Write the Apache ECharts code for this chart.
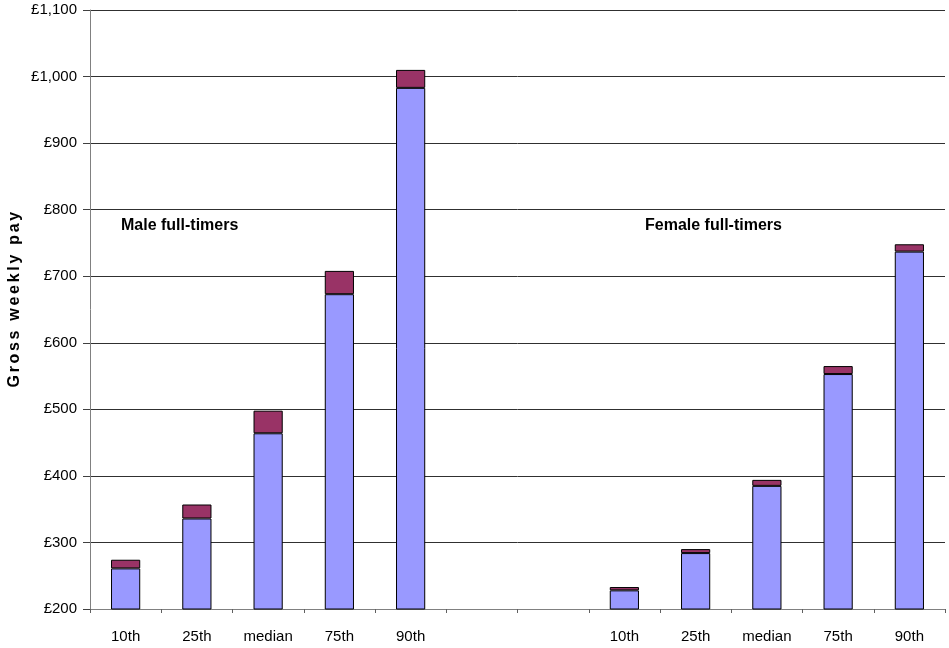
<!DOCTYPE html>
<html>
<head>
<meta charset="utf-8">
<script src="https://cdn.jsdelivr.net/npm/echarts@6/dist/echarts.min.js"></script>
<style>
  html, body { margin: 0; padding: 0; background: #fff; }
  #chart { width: 949px; height: 648px; }
</style>
</head>
<body>
<div id="chart"></div>
<script>
// Percentile groups: male full-timers, two spacer slots, female full-timers
const categories = ['10th', '25th', 'median', '75th', '90th', '', '', '10th', '25th', 'median', '75th', '90th'];

// Gross weekly pay, lower (earlier) level
const baseValues = [261, 336, 464, 673, 983, null, null, 228, 284, 385, 553, 737];

// Gross weekly pay, upper (later) level
const topValues = [274, 357, 498, 708, 1010, null, null, 233, 290, 394, 565, 748];

// Increment stacked above the base
const increments = baseValues.map((b, i) => (b == null ? null : topValues[i] - b));

const yTicks = { min: 200, max: 1100, step: 100 };

const yTitle = 'Gross weekly pay';
const groupLabels = ['Male full-timers', 'Female full-timers'];

const chart = echarts.init(document.getElementById('chart'));

const font = 'Liberation Sans, Arial, sans-serif';

// Spaced-out axis title: each character is its own rich fragment with side padding;
// the first fragment carries extra leading space to lift the title slightly.
const spacedTitle = yTitle.split('')
  .map((ch, i) => '{' + (i === 0 ? 'f' : 'c') + '|' + ch + '}')
  .join('');
const titleChar = { fontFamily: font, fontSize: 16, fontWeight: 'bold', color: '#000' };

chart.setOption({
  animation: false,
  backgroundColor: '#ffffff',
  grid: { left: 90, right: 4, top: 10, bottom: 39, containLabel: false, outerBoundsMode: 'none' },
  xAxis: {
    type: 'category',
    data: categories,
    boundaryGap: true,
    axisLine: { lineStyle: { color: '#808080', width: 1 } },
    axisTick: { show: true, length: 4, interval: 0, lineStyle: { color: '#606060' } },
    axisLabel: { interval: 0, color: '#000', fontFamily: font, fontSize: 15, margin: 20 }
  },
  yAxis: {
    type: 'value',
    min: yTicks.min,
    max: yTicks.max,
    interval: yTicks.step,
    name: spacedTitle,
    nameLocation: 'middle',
    nameGap: 67,
    nameMoveOverlap: false,
    nameRotate: 90,
    nameTextStyle: {
      ...titleChar,
      rich: {
        c: { ...titleChar, padding: [0, 1.35, 0, 1.35] },
        f: { ...titleChar, padding: [0, 1.35, 0, 21] }
      }
    },
    axisLine: { show: true, lineStyle: { color: '#808080', width: 1 } },
    axisTick: { show: true, length: 7, lineStyle: { color: '#404040' } },
    axisLabel: {
      color: '#000', fontFamily: font, fontSize: 15, margin: 13,
      formatter: v => '£' + v.toLocaleString('en-GB')
    },
    splitLine: { show: true, lineStyle: { color: '#303030', width: 1 } }
  },
  series: [
    {
      type: 'bar',
      stack: 'pay',
      data: baseValues,
      barWidth: '41%',
      itemStyle: { color: '#9999FF', borderColor: '#000', borderWidth: 1 }
    },
    {
      type: 'bar',
      stack: 'pay',
      data: increments,
      barWidth: '41%',
      itemStyle: { color: '#993366', borderColor: '#000', borderWidth: 1 }
    }
  ],
  graphic: [
    {
      type: 'text', left: 121, top: 218,
      style: { text: groupLabels[0], font: 'bold 16px ' + font, fill: '#000' }
    },
    {
      type: 'text', left: 645, top: 218,
      style: { text: groupLabels[1], font: 'bold 16px ' + font, fill: '#000' }
    }
  ]
});
</script>
</body>
</html>
